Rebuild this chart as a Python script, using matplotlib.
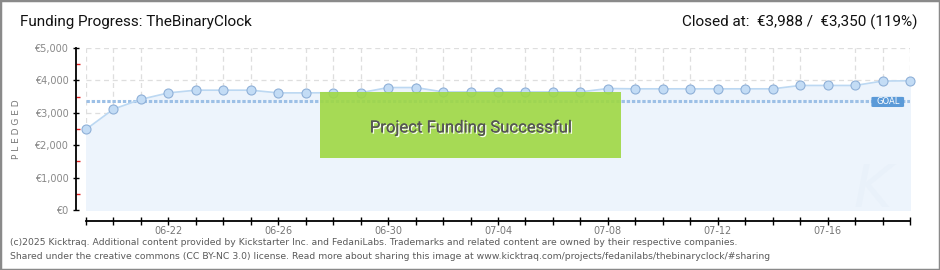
import pandas as pd
import matplotlib.pyplot as plt
import matplotlib.dates as mdates
import matplotlib.patheffects as pe
from matplotlib.patches import Rectangle, FancyBboxPatch

# daily pledged totals (EUR), 06-19 .. 07-19
dates = pd.date_range("2025-06-19", "2025-07-19", freq="D")
pledged = [2490, 3115, 3416, 3615, 3698, 3698, 3698, 3615, 3615, 3620,
           3620, 3780, 3780, 3645, 3645, 3645, 3645, 3645, 3645, 3750,
           3740, 3740, 3740, 3740, 3740, 3740, 3844, 3844, 3844, 3980,
           3988]
goal = 3350

x_labels = ["06-22", "06-26", "06-30", "07-04", "07-08", "07-12", "07-16"]
y_ticks = [0, 1000, 2000, 3000, 4000, 5000]
y_labels = ["€0", "€1,000", "€2,000", "€3,000", "€4,000", "€5,000"]

title = "Funding Progress: TheBinaryClock"
closed = "Closed at:  €3,988 /  €3,350 (119%)"
footer = ("(c)2025 Kicktraq. Additional content provided by Kickstarter Inc. and FedaniLabs. "
          "Trademarks and related content are owned by their respective companies.\n"
          "Shared under the creative commons (CC BY-NC 3.0) license. Read more about sharing "
          "this image at www.kicktraq.com/projects/fedanilabs/thebinaryclock/#sharing")

W, H = 940, 270
fig = plt.figure(figsize=(W / 100, H / 100), dpi=100)
ax = fig.add_axes([86 / W, 60 / H, 824 / W, 162 / H])

x = mdates.date2num(dates)

# fill, line, markers
ax.fill_between(x, pledged, 0, color="#edf4fc", zorder=1)
ax.plot(x, pledged, color="#bcd8f2", lw=1.2, zorder=3)
ax.plot(x, pledged, "o", ms=6.5, mfc="#c3dcf5", mec="#8fb0d8", mew=0.8,
        zorder=4, clip_on=False)

# goal line
ax.axhline(goal, color="#9dc0e6", lw=2.2, dashes=(1.1, 0.6), zorder=2)

ax.set_xlim(x[0], x[-1])
ax.set_ylim(0, 5000)

# grid
ax.set_xticks(x, minor=True)
ax.grid(True, which="minor", axis="x", color="#dedede", ls=(0, (4, 3)), lw=0.9, zorder=0)
ax.grid(True, which="major", axis="y", color="#dedede", ls=(0, (4, 3)), lw=0.9, zorder=0)
ax.set_axisbelow(True)

# ticks
pos = [x[list(dates.strftime("%m-%d")).index(l)] for l in x_labels]
ax.set_xticks(pos)
ax.set_xticklabels(x_labels)
ax.set_yticks(y_ticks)
ax.set_yticklabels(y_labels)
ax.set_yticks([500, 1500, 2500, 3500, 4500], minor=True)

ax.tick_params(axis="x", which="both", direction="inout", length=6, width=1,
               color="black", labelsize=7, labelcolor="#777777", pad=0.5)
ax.tick_params(axis="y", which="major", direction="inout", length=5, width=1,
               color="black", labelsize=7, labelcolor="#888888", pad=3)
ax.tick_params(axis="y", which="minor", direction="in", length=3, width=1,
               color="#e02020")

for s in ["top", "right"]:
    ax.spines[s].set_visible(False)
ax.spines["left"].set_position(("outward", 7.2))
ax.spines["bottom"].set_position(("outward", 8))
ax.spines["left"].set_linewidth(1.3)
ax.spines["bottom"].set_linewidth(1.3)

ax.set_ylabel("P L E D G E D", fontsize=6.5, color="#777777", labelpad=10)

# goal badge
ax.add_patch(FancyBboxPatch((0.956, 0.642), 0.034, 0.05, transform=ax.transAxes,
                            boxstyle="round,pad=0.002", fc="#5b9ad8", ec="#5b9ad8",
                            zorder=6, clip_on=False))
ax.text(0.973, 0.668, "GOAL", transform=ax.transAxes, ha="center", va="center",
        fontsize=6, color="white", family="DejaVu Sans", zorder=7)

# watermark
ax.text(0.955, 0.12, "K", transform=ax.transAxes, ha="center", va="center",
        fontsize=42, style="italic", color="#e9f1fa", zorder=1)

# success banner
ax.add_patch(Rectangle((0.284, 0.321), 0.365, 0.407, transform=ax.transAxes,
                       fc="#9fd843", ec="none", alpha=0.9, zorder=8))
ax.text(0.4665, 0.51, "Project Funding Successful", transform=ax.transAxes,
        ha="center", va="center", fontsize=12, family="Roboto", color="#555555",
        zorder=9, path_effects=[pe.withSimplePatchShadow(offset=(1, -1), shadow_rgbFace="white", alpha=0.9),
                                pe.Normal()])

# header and footer
fig.text(20 / W, 1 - 22 / H, title, fontsize=11, family="Roboto", color="#111111",
         ha="left", va="center")
fig.text(918 / W, 1 - 22 / H, closed, fontsize=11, family="Roboto", color="#111111",
         ha="right", va="center")
fig.text(10 / W, 1 - 249.5 / H, footer, fontsize=6.7, color="#5a5a5a", ha="left",
         va="center", linespacing=1.6)

# outer frame
fig.add_artist(Rectangle((0, 0), 1, 1, transform=fig.transFigure, fill=False,
                         ec="#8a8a8a", lw=2.5))

fig.savefig("out.png", dpi=100)
